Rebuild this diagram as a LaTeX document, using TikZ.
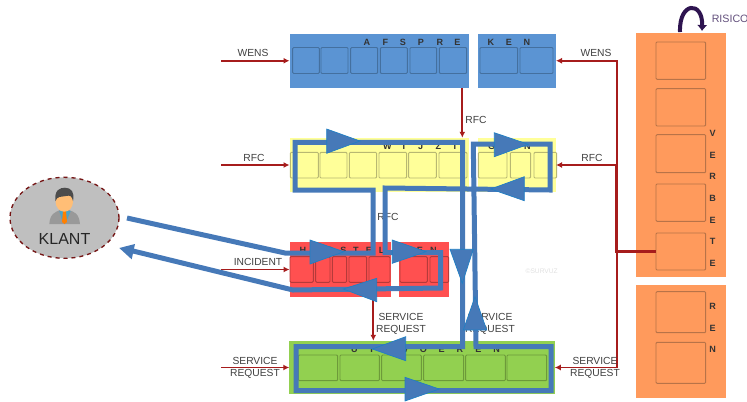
\documentclass[tikz,border=0pt]{standalone}
\usepackage{fontspec}
\setmainfont{Liberation Sans}
\definecolor{bluefill}{HTML}{5B94D3}
\definecolor{blueedge}{HTML}{44709F}
\definecolor{yellowfill}{HTML}{FFFF99}
\definecolor{yellowedge}{HTML}{B8B872}
\definecolor{redfill}{HTML}{FF5050}
\definecolor{rededge}{HTML}{B53A3A}
\definecolor{greenfill}{HTML}{92D050}
\definecolor{greenedge}{HTML}{6D9A3A}
\definecolor{orangefill}{HTML}{FF9A5C}
\definecolor{orangeedge}{HTML}{B87348}
\definecolor{flowline}{HTML}{A61C1C}
\definecolor{route}{HTML}{4679B8}
\definecolor{routeedge}{HTML}{1F7FC4}
\definecolor{risico}{HTML}{2E1450}
\definecolor{labelgrey}{HTML}{404040}
\definecolor{skin}{HTML}{FFBE76}
\usetikzlibrary{arrows.meta,shapes.geometric}
\tikzset{
  lane/.style={minimum width=#1,inner sep=0pt,outer sep=0pt},
  sublabel/.style={text=labelgrey,font=\fontsize{7.7}{9}\selectfont,align=center,inner sep=0pt},
  letter/.style={text=black!80,font=\fontsize{6.8}{8}\selectfont\bfseries,inner sep=0pt},
  flow/.style={flowline,line width=1.3pt,-{Latex[length=4.5pt,width=4.5pt]}},
  routeline/.style={route,line width=3.75pt,miter limit=10},
  routehead/.style={fill=route,draw=routeedge,line width=0.5pt},
  pane/.style={rounded corners=0.8pt,line width=0.7pt}
}
\begin{document}
\begin{tikzpicture}[x=0.75pt,y=-0.75pt]
\useasboundingbox (0,0) rectangle (747,401);
% swimlanes
\node[lane=179.5*0.75pt,minimum height=54.5*0.75pt,fill=bluefill] (afspre) at (379.25,60.75) {};
\node[lane=78*0.75pt,minimum height=54.5*0.75pt,fill=bluefill] (ken) at (517,60.75) {};
\node[lane=179.5*0.75pt,minimum height=54.5*0.75pt,fill=yellowfill] (wijzi) at (379.25,165) {};
\node[lane=78*0.75pt,minimum height=54.5*0.75pt,fill=yellowfill] (gen) at (517,165) {};
\node[lane=101.5*0.75pt,minimum height=54.5*0.75pt,fill=redfill] (herstel) at (340.25,269.5) {};
\node[lane=49.5*0.75pt,minimum height=54.5*0.75pt,fill=redfill] (len) at (423.75,269.5) {};
\node[lane=265.5*0.75pt,minimum height=53.5*0.75pt,fill=greenfill] (uitvoeren) at (422,367.5) {};
\node[lane=89.5*0.75pt,minimum height=243.5*0.75pt,fill=orangefill] (verbete) at (680.75,155) {};
\node[lane=89.5*0.75pt,minimum height=112.5*0.75pt,fill=orangefill] (ren) at (680.75,341.25) {};
% panes
\foreach \xa/\xb in {292.7/319.3,321/348,350.7/377.7,380.3/407.3,410/436.7,439.3/466.7,480/517.7,520/553}
  \draw[pane,draw=blueedge] (\xa,47.5) rectangle (\xb,73.5);
\foreach \xa/\xb in {290.3/318.3,320/347,349.3/376.7,379/406.7,408.7/436.3,439/467,478.3/507,510.3/530.7,534/556.7}
  \draw[pane,draw=yellowedge] (\xa,152.3) rectangle (\xb,178);
\foreach \xa/\xb in {290/313.3,315.7/330,332.3/346.7,349/366.7,369/390,400/427.3,430/448.7}
  \draw[pane,draw=rededge] (\xa,256.7) rectangle (\xb,282.3);
\foreach \xa/\xb in {298.3/337.7,340/379.3,381.7/421.3,423.7/463.7,465.7/505.3,507/546.7}
  \draw[pane,draw=greenedge] (\xa,355) rectangle (\xb,380.7);
\foreach \ya/\yb in {42/79.3,88.7/126,134.7/172.7,184/221.3,233/270,291.7/332.7,342.3/383.3}
  \draw[pane,draw=orangeedge] (656,\ya) rectangle (705.7,\yb);
\node[pane,inner sep=0pt,minimum width=49.7*0.75pt,minimum height=37*0.75pt] (verbeteA) at (680.85,251.5) {};
% letters
\foreach \x/\t in {367/A,385.3/F,403/S,421/P,440/R,457.3/E,491/K,509/E,527/N}
  \node[letter] (blue\t\x) at (\x,42) {\t};
\foreach \x/\t in {387.3/W,404/I,420.7/J,438.3/Z,455/I,491.7/G,509/E,527.3/N}
  \node[letter] (yellow\t\x) at (\x,146) {\t};
\foreach \x/\t in {303/H,316.7/E,330/R,343.3/S,356/T,369/E,381.7/L,406.7/L,420/E,433.3/N}
  \node[letter] (red\t\x) at (\x,250) {\t};
\foreach \x/\t in {354.3/U,371.7/I,388.3/T,405.7/V,423.3/O,441.7/E,460/R,478.3/E,496.7/N}
  \node[letter] (green\t\x) at (\x,349) {\t};
\foreach \y/\t in {133.3/V,155/E,176.7/R,198/B,220/E,241.3/T,263.3/E,306/R,328/E,349.3/N}
  \node[letter] (orange\t\y) at (712.7,\y) {\t};
% flows
\coordinate (wensin) at (221,60.75);
\coordinate (rfcin) at (221,165);
\coordinate (incidentin) at (221,269.5);
\coordinate (servicein) at (221,367.5);
\coordinate (riser) at (616.7,251.5);
\coordinate (rfcdown) at (462.3,0);
\coordinate (servicedown) at (373.3,0);
\draw[flow] (wensin) -- (afspre.west);
\draw[flow] (rfcin) -- (wijzi.west);
\draw[flow] (incidentin) -- (herstel.west);
\draw[flow] (servicein) -- (uitvoeren.west);
\draw[flow] (afspre.south -| rfcdown) -- (wijzi.north -| rfcdown);
\draw[flow] (herstel.south -| servicedown) -- (uitvoeren.north -| servicedown);
\draw[flow] (riser |- gen.east) -- (gen.east);
\draw[flow] (riser |- gen.east) |- (ken.east);
\draw[flow] (riser) |- (uitvoeren.east);
\draw[flowline,line width=2pt] (verbeteA.west) -- (riser) -- (riser |- gen.east);
% labels
\node[sublabel] (wensl) at (253,53) {WENS};
\node[sublabel] (rfcl) at (254,158) {RFC};
\node[sublabel] (incidentl) at (258,262) {INCIDENT};
\node[sublabel] (servicel) at (255,367.5) {SERVICE\\REQUEST};
\node[sublabel] (wensr) at (596,53) {WENS};
\node[sublabel] (rfcr) at (592,158) {RFC};
\node[sublabel] (servicer) at (595,367.5) {SERVICE\\REQUEST};
\node[sublabel] (rfca) at (476,120) {RFC};
\node[sublabel] (rfcb) at (388,217) {RFC};
\node[sublabel] (servicea) at (401,324) {SERVICE\\REQUEST};
\node[sublabel] (serviceb) at (490,324) {SERVICE\\REQUEST};
\node[text=black!12,font=\fontsize{5}{6}\selectfont,inner sep=0pt] (survuz) at (541.7,271) {©SURVUZ};
% risico
\coordinate (risicostart) at (680,32);
\coordinate (risicoend) at (702,31);
\draw[risico,line width=3pt,-{Latex[length=4.5pt,width=8pt]}] (risicostart) .. controls (679,1) and (703,1) .. (risicoend);
\node[text=risico!75,font=\fontsize{8}{9}\selectfont,anchor=west,inner sep=0pt] (risicol) at (711.5,19) {RISICO};
% klant
\node[ellipse,draw=flowline!70!black,dashed,line width=1pt,fill=black!25,minimum width=109*0.75pt,minimum height=81*0.75pt,inner sep=0pt] (klant) at (64.5,217.8) {};
\fill[black!40] (49.3,224) .. controls (50,213) and (56,212) .. (60,210) -- (69,210) .. controls (74,212) and (79,213) .. (80,224) -- cycle;
\fill[blue!30!cyan!70!black!70] (59.3,211) -- (70.7,211) -- (67,220) -- (62,220) -- cycle;
\fill[orange] (63,211) -- (66,211) -- (67,222) -- (64.5,224) -- (62,222) -- cycle;
\fill[skin] (64.3,201.7) ellipse [x radius=8.7*0.75pt,y radius=10*0.75pt];
\fill[black!70] (55.5,201) .. controls (54,190) and (60,187.7) .. (65,187.7) .. controls (71,187.7) and (75,192) .. (73,201) .. controls (72,196) and (70,195) .. (66,196) .. controls (61,197) and (57,196) .. (55.5,201) -- cycle;
\node[text=black!85,font=\fontsize{12}{14}\selectfont,inner sep=0pt] (klantl) at (64.5,239) {KLANT};
% route
\coordinate (klantuit) at (127,218);
\coordinate (klantin) at (131,250.5);
\draw[routeline] (klantuit) -- (285,253) -- (373,253) -- (373,190) -- (295,190) -- (295,142.3) -- (462.5,142.3)
  -- (462.5,346.7) -- (296,346.7) -- (296,390.7) -- (551,390.7) -- (551,346.7) -- (476,346.7)
  -- (473.3,144) -- (550,144) -- (550,190) -- (385,188) -- (385,252.7) -- (440.7,252.7)
  -- (440.7,288) -- (293,290) -- (klantin);
\fill[route] (119.3,248) -- (135,244) -- (131.7,259.3) -- cycle;
\foreach \pa/\pb/\pc in {{326.7,129}/{326.7,153.3}/{360,141},{494.3,132.7}/{494.3,156.7}/{528.3,144.3},
  {524.3,176.7}/{524.3,200.7}/{490.7,189},{310,240}/{310,264}/{344,251.7},{392.3,240}/{392.3,263.3}/{426,251.7},
  {376.7,278.3}/{376.7,301.7}/{343.3,289},{450,249.3}/{473.3,249.3}/{462.3,283.3},{475,296.7}/{463.3,330}/{486.7,330},
  {405.7,336.7}/{405.7,360.7}/{372.3,349},{405,377.3}/{405,401}/{439.3,389}}
  \draw[routehead] (\pa) -- (\pb) -- (\pc) -- cycle;
\end{tikzpicture}
\end{document}
